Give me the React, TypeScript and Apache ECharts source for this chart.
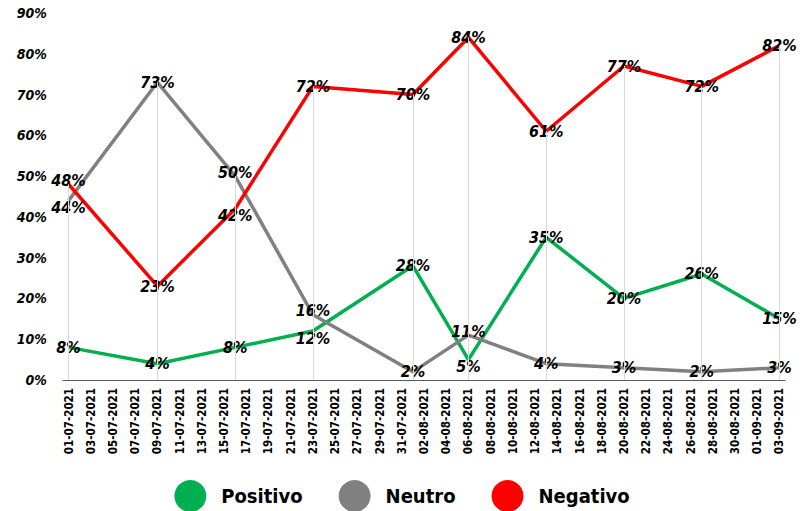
import React, { useEffect, useRef } from "react";
import * as echarts from "echarts";

// Dates where the survey points sit
const pointDates = [
  "01-07-2021", "09-07-2021", "16-07-2021", "23-07-2021", "01-08-2021",
  "06-08-2021", "13-08-2021", "20-08-2021", "27-08-2021", "03-09-2021",
];
const positivo = [8, 4, 8, 12, 28, 5, 35, 20, 26, 15];
const neutro = [44, 73, 50, 16, 2, 11, 4, 3, 2, 3];
const negativo = [48, 23, 42, 72, 70, 84, 61, 77, 72, 82];

const yTicks = [0, 10, 20, 30, 40, 50, 60, 70, 80, 90];

// daily categories from 01-07-2021 to 03-09-2021
const axisStart = Date.UTC(2021, 6, 1);
const axisDays = 65;
const pad = (n: number) => (n < 10 ? "0" + n : "" + n);
const categories: string[] = [];
for (let i = 0; i < axisDays; i++) {
  const d = new Date(axisStart + i * 86400000);
  categories.push(`${pad(d.getUTCDate())}-${pad(d.getUTCMonth() + 1)}-${d.getUTCFullYear()}`);
}

const FONT = "'Liberation Sans Narrow', 'DejaVu Sans Condensed', 'Roboto', sans-serif";

export default function App() {
  const ref = useRef<HTMLDivElement>(null);
  useEffect(() => {
    if (!ref.current) return;
    const chart = echarts.init(ref.current, undefined, { renderer: "svg" });
    const all = [positivo, neutro, negativo];
    const toDaily = (vals: number[]) =>
      categories.map((c) => {
        const i = pointDates.indexOf(c);
        if (i < 0) return null;
        const v = vals[i];
        let dy = 0;
        all.forEach((other) => {
          if (other === vals) return;
          const o = other[i];
          if (Math.abs(o - v) <= 8) dy = v > o ? -4 : 7;
        });
        return { value: v, label: { offset: [0, dy] } };
      });
    const labelCfg = {
      show: true,
      position: "inside" as const,
      formatter: (p: any) => (p.value == null ? "" : p.value + "%"),
      color: "#000",
      fontFamily: FONT,
      fontWeight: "bold" as const,
      fontStyle: "italic" as const,
      fontSize: 16,
    };
    const mk = (name: string, vals: number[], color: string) => ({
      name,
      type: "line" as const,
      data: toDaily(vals),
      connectNulls: true,
      showSymbol: true,
      showAllSymbol: true,
      symbol: "circle",
      symbolSize: 1,
      lineStyle: { color, width: 3.5 },
      itemStyle: { color },
      label: labelCfg,
      z: 3,
    });
    const drop = pointDates.map((d, i) => {
      const idx = categories.indexOf(d);
      const mx = Math.max(positivo[i], neutro[i], negativo[i]);
      return [{ coord: [idx, 0] }, { coord: [idx, mx] }];
    });
    chart.setOption({
      animation: false,
      grid: { left: 63, right: 19, top: 13, bottom: 131, containLabel: false },
      legend: {
        data: ["Positivo", "Neutro", "Negativo"],
        top: 475,
        left: "center",
        icon: "circle",
        itemWidth: 32,
        itemHeight: 32,
        itemGap: 36,
        textStyle: { fontFamily: FONT, fontWeight: "bold", fontSize: 20, color: "#000", padding: [0, 0, 0, 10] },
      },
      xAxis: {
        type: "category",
        data: categories,
        boundaryGap: true,
        axisLine: { lineStyle: { color: "#595959", width: 1 } },
        axisTick: { interval: 1, alignWithLabel: false, length: 5, lineStyle: { color: "#595959" } },
        axisLabel: {
          interval: 1,
          rotate: 90,
          color: "#000",
          fontFamily: FONT,
          fontWeight: "bold",
          fontSize: 11.5,
          margin: 8,
        },
        splitLine: { show: false },
      },
      yAxis: {
        type: "value",
        min: 0,
        max: 90,
        interval: 10,
        axisLine: { show: false },
        axisTick: { show: false },
        splitLine: { show: false },
        axisLabel: {
          formatter: (v: number) => (yTicks.includes(v) ? v + "%" : ""),
          color: "#000",
          fontFamily: FONT,
          fontWeight: "bold",
          fontStyle: "italic",
          fontSize: 14,
          margin: 16,
        },
      },
      series: [
        {
          name: "drop",
          type: "line",
          data: [],
          z: 1,
          markLine: {
            silent: true,
            symbol: ["none", "none"],
            label: { show: false },
            lineStyle: { color: "#d9d9d9", width: 1, type: "solid" },
            data: drop,
          },
        },
        mk("Positivo", positivo, "#00B050"),
        mk("Neutro", neutro, "#808080"),
        mk("Negativo", negativo, "#FF0000"),
      ],
    });
    return () => chart.dispose();
  }, []);
  return <div ref={ref} style={{ width: 804, height: 511, position: "absolute", left: 0, top: 0 }} />;
}
